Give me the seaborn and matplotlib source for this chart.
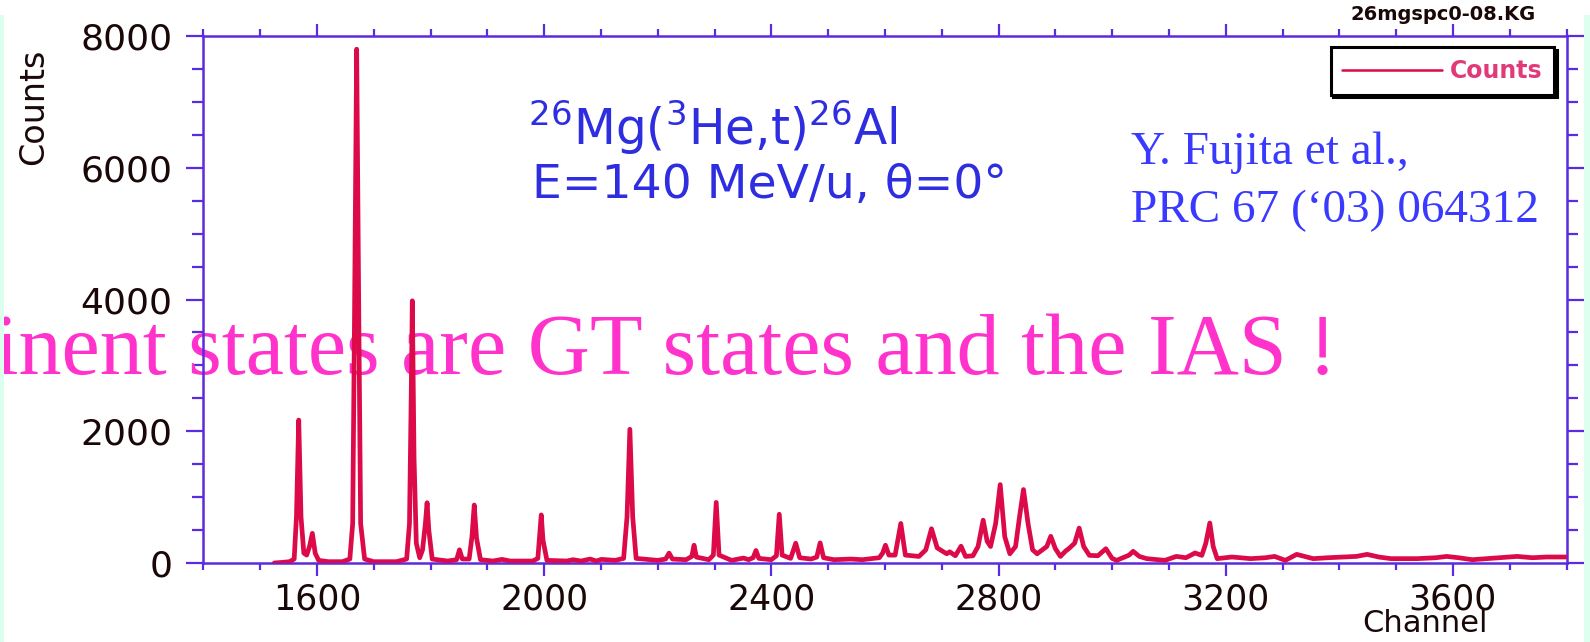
import matplotlib
matplotlib.use("Agg")
import matplotlib.pyplot as plt
import seaborn as sns
import pandas as pd
from matplotlib.ticker import FixedLocator, MultipleLocator
from matplotlib.patches import Rectangle

# ---------------- data ----------------
channel = [
    1525, 1540, 1552, 1560, 1564, 1568, 1572, 1577, 1582, 1587, 1592, 1597, 1603, 1620,
    1645, 1658, 1663, 1666, 1670, 1674, 1677, 1684, 1700, 1740, 1758, 1763, 1766, 1768,
    1771, 1775, 1781, 1786, 1791, 1794, 1797, 1803, 1830, 1846, 1851, 1856, 1868, 1873,
    1877, 1881, 1888, 1910, 1926, 1940, 1980, 1989, 1992, 1995, 1998, 2005, 2040, 2051,
    2065, 2081, 2092, 2101, 2125, 2140, 2146, 2151, 2156, 2162, 2200, 2214, 2220, 2226,
    2250, 2260, 2264, 2268, 2290, 2298, 2303, 2308, 2330, 2351, 2360, 2368, 2373, 2378,
    2400, 2409, 2414, 2419, 2434, 2443, 2450, 2470, 2480, 2486, 2492, 2510, 2540, 2560,
    2590, 2596, 2601, 2607, 2618, 2628, 2636, 2660, 2672, 2682, 2692, 2703, 2709, 2714,
    2724, 2734, 2742, 2755, 2764, 2773, 2780, 2786, 2795, 2803, 2811, 2820, 2830, 2837,
    2844, 2852, 2860, 2868, 2885, 2892, 2900, 2909, 2918, 2924, 2934, 2942, 2950, 2960,
    2975, 2989, 3000, 3008, 3030, 3037, 3048, 3061, 3093, 3113, 3130, 3146, 3158, 3165,
    3172, 3178, 3185, 3211, 3244, 3270, 3286, 3305, 3325, 3354, 3380, 3406, 3430, 3449,
    3470, 3491, 3537, 3570, 3589, 3610, 3634, 3680, 3713, 3740, 3765, 3800,
]
counts = [
    0, 10, 20, 60, 700, 2170, 700, 150, 120, 250, 450, 150, 40, 20,
    20, 60, 600, 3500, 7800, 3500, 600, 60, 20, 20, 60, 600, 2500, 3980,
    1600, 300, 80, 200, 600, 915, 500, 60, 30, 50, 200, 60, 60, 400,
    880, 380, 50, 30, 55, 30, 30, 70, 400, 730, 350, 40, 30, 50,
    30, 60, 30, 55, 40, 70, 700, 2030, 700, 70, 40, 60, 150, 60,
    50, 100, 270, 90, 50, 120, 920, 120, 40, 75, 50, 80, 190, 70,
    50, 110, 740, 120, 70, 300, 80, 60, 90, 305, 80, 50, 60, 50,
    80, 150, 270, 120, 120, 600, 120, 100, 200, 520, 230, 170, 140, 170,
    110, 255, 100, 110, 250, 650, 330, 250, 600, 1190, 400, 140, 250, 700,
    1115, 600, 200, 140, 250, 405, 220, 100, 180, 220, 300, 530, 250, 116,
    110, 217, 70, 40, 120, 177, 100, 66, 40, 100, 80, 152, 116, 300,
    607, 250, 66, 91, 66, 80, 100, 40, 131, 66, 80, 91, 100, 131,
    90, 66, 66, 80, 100, 80, 50, 80, 100, 80, 91, 91,
]
x_major_ticks = [1600, 2000, 2400, 2800, 3200, 3600]
y_major_ticks = [0, 2000, 4000, 6000, 8000]
series_label = "Counts"

# ---------------- styling ----------------
LINE = "#dc0a48"
AXC = "#5a2be0"
TXT = "#1a0808"

sns.set_theme(style="ticks")
plt.rcParams["font.family"] = ["DejaVu Sans"]
plt.rcParams["mathtext.fontset"] = "dejavusans"

W, H = 1590, 642
fig = plt.figure(figsize=(W / 100, H / 100), dpi=100)
fig.patch.set_facecolor("white")

# mint strips at the slide edges
fig.patches.append(Rectangle((0, 0), 4 / W, 1 - 15 / H, transform=fig.transFigure,
                             facecolor="#dcfff0", edgecolor="none", zorder=0))
fig.patches.append(Rectangle((1 - 6 / W, 0), 6 / W, 1 - 15 / H, transform=fig.transFigure,
                             facecolor="#dcfff0", edgecolor="none", zorder=0))

ax = fig.add_axes([203.3 / W, 1 - 563 / H, (1566.5 - 203.3) / W, (563 - 36) / H])
ax.set_facecolor("none")

df = pd.DataFrame({"Channel": channel, "Counts": counts})
sns.lineplot(data=df, x="Channel", y="Counts", ax=ax, color=LINE, linewidth=3.4,
             estimator=None, label=series_label, zorder=3)

ax.set_xlim(1400, 3800)
ax.set_ylim(0, 8000)
ax.xaxis.set_major_locator(FixedLocator(x_major_ticks))
ax.xaxis.set_minor_locator(MultipleLocator(100))
ax.yaxis.set_major_locator(FixedLocator(y_major_ticks))
ax.yaxis.set_minor_locator(MultipleLocator(500))
ax.set_xticklabels([str(v) for v in x_major_ticks])
ax.set_yticklabels([str(v) for v in y_major_ticks])

for s in ax.spines.values():
    s.set_visible(True)
    s.set_color(AXC)
    s.set_linewidth(1.8)

ax.tick_params(which="both", direction="out", top=True, right=True, color=AXC,
               width=1.6, labelcolor=TXT)
ax.tick_params(axis="x", which="major", length=9, pad=5, labelsize=25)
ax.tick_params(axis="x", which="minor", length=5)
ax.tick_params(axis="y", which="major", length=12, pad=10, labelsize=26)
ax.tick_params(axis="y", which="minor", length=8)

ax.set_ylabel("Counts", fontsize=24, color=TXT)
ax.yaxis.set_label_coords(-0.1125, 0.865)
ax.set_xlabel("Channel", fontsize=22, color=TXT)
ax.xaxis.set_label_coords(0.896, -0.088)

leg = ax.legend(loc="upper right", bbox_to_anchor=(0.991, 0.979), borderaxespad=0,
                frameon=True, fancybox=False, shadow={"color": "black", "alpha": 1.0},
                edgecolor="black", facecolor="white", framealpha=1,
                prop={"weight": "bold", "size": 17}, handlelength=4.2,
                handletextpad=0.35, borderpad=0.5, labelcolor="#e23a78")
leg.get_frame().set_linewidth(2.2)
for ln in leg.get_lines():
    ln.set_linewidth(1.8)

# file name tag
fig.text(1443 / W, 1 - 15 / H, "26mgspc0-08.KG", ha="center", va="center",
         fontsize=14, fontweight="bold", color=TXT)

# reaction annotation
ax.text(528 / W, 1 - 145 / H, r"$^{26}$Mg($^{3}$He,t)$^{26}$Al", transform=fig.transFigure,
        ha="left", va="baseline", fontsize=35, color="#2e2ee0", zorder=4)
ax.text(532 / W, 1 - 198 / H, "E=140 MeV/u, θ=0°", transform=fig.transFigure,
        ha="left", va="baseline", fontsize=34, color="#2e2ee0", zorder=4)

# reference
ax.text(1131 / W, 1 - 164 / H, "Y. Fujita et al.,", transform=fig.transFigure,
        ha="left", va="baseline", fontsize=34, family="Liberation Serif",
        color="#3a3aff", zorder=4)
ax.text(1131 / W, 1 - 222 / H, "PRC 67 (\u201803) 064312", transform=fig.transFigure,
        ha="left", va="baseline", fontsize=34, family="Liberation Serif",
        color="#3a3aff", zorder=4)

# slide overlay sentence (runs off the left edge as in the reference)
ax.text(1337 / W, 1 - 374 / H, "Prominent states are GT states and the IAS !",
        transform=fig.transFigure, ha="right", va="baseline", fontsize=62,
        family="Liberation Serif", color="#ff33cc", zorder=1, clip_on=False)

fig.savefig("out.png", dpi=100)
